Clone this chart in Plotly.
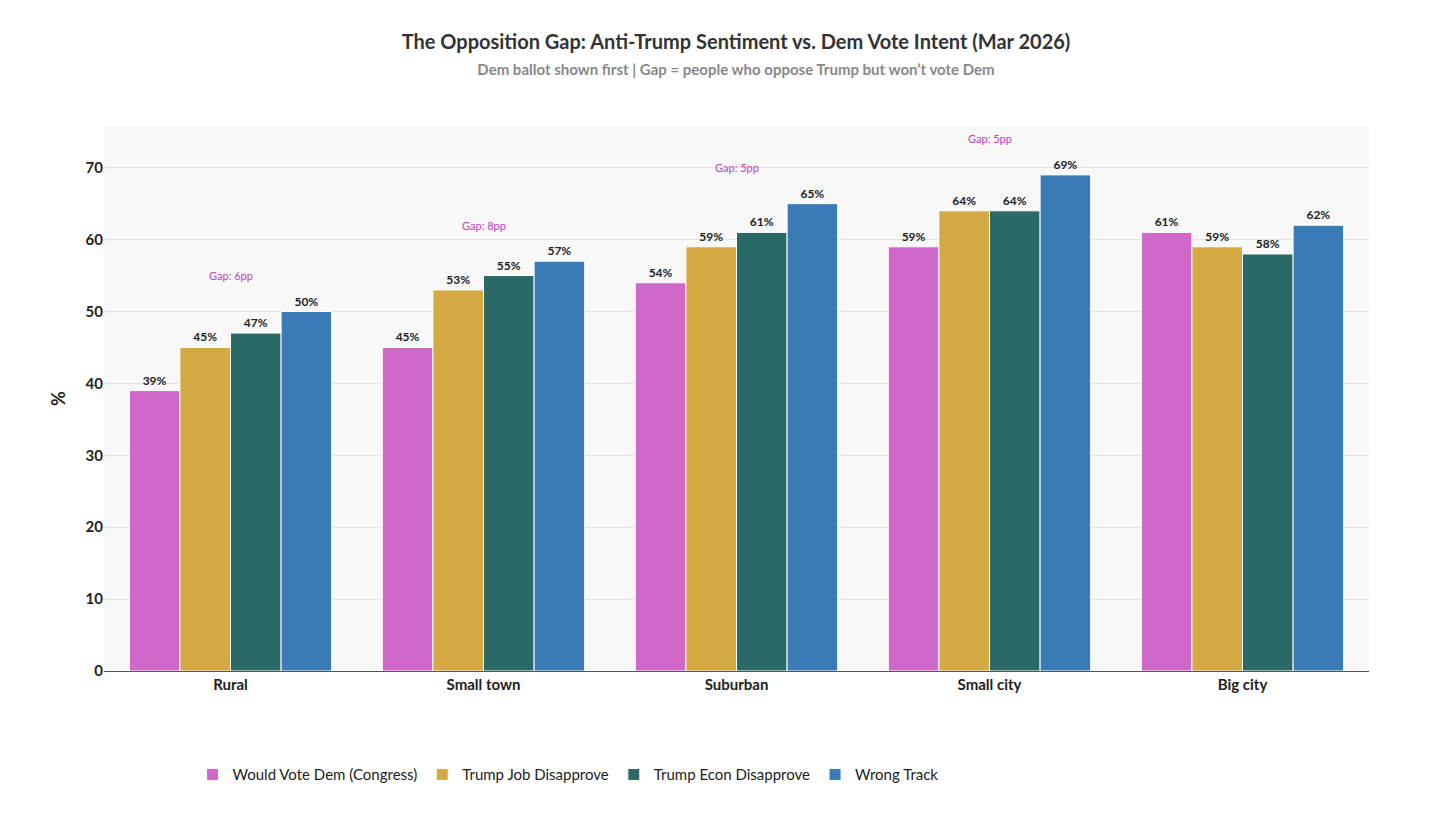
import plotly.graph_objects as go

categories = ["Rural", "Small town", "Suburban", "Small city", "Big city"]
vote_dem = [39, 45, 54, 59, 61]
job_disapprove = [45, 53, 59, 64, 59]
econ_disapprove = [47, 55, 61, 64, 58]
wrong_track = [50, 57, 65, 69, 62]

series = [
    ("Would Vote Dem (Congress)", vote_dem, "#d068c9"),
    ("Trump Job Disapprove", job_disapprove, "#d4a843"),
    ("Trump Econ Disapprove", econ_disapprove, "#2a6966"),
    ("Wrong Track", wrong_track, "#3a7bb7"),
]

fig = go.Figure()
for name, vals, color in series:
    fig.add_trace(go.Bar(
        x=categories, y=vals, name=name,
        marker=dict(color=color, line=dict(color="white", width=1)),
        text=[f"{v}%" for v in vals], textposition="outside",
        textfont=dict(size=12, color="#222", family="Lato"),
        texttemplate="<b>%{text}</b>", cliponaxis=False,
    ))

for c, d, j, e, w in zip(categories, vote_dem, job_disapprove, econ_disapprove, wrong_track):
    gap = j - d
    if gap > 0:
        fig.add_annotation(x=c, y=max(d, j, e, w) + 5, text=f"Gap: {gap}pp",
                           showarrow=False, font=dict(size=11, color="#c040c0", family="Lato"))

fig.update_layout(
    width=1456, height=818,
    font=dict(family="Lato", color="#222"),
    title=dict(
        text="<b>The Opposition Gap: Anti-Trump Sentiment vs. Dem Vote Intent (Mar 2026)</b>"
             "<br><span style='font-size:15px;color:#888'><b>Dem ballot shown first | Gap = people who oppose Trump but won’t vote Dem</b></span>",
        x=0.5, xanchor="center", y=0.95, font=dict(size=20, color="#333"),
    ),
    plot_bgcolor="#f8f8f8", paper_bgcolor="white",
    barmode="group", bargap=0.2, bargroupgap=0.0,
    margin=dict(l=96, r=95, t=118, b=155),
    legend=dict(orientation="h", x=0.07, xanchor="left", y=-0.16, yanchor="top",
                font=dict(size=15, color="#222"), traceorder="normal"),
    showlegend=True,
)
fig.update_xaxes(tickfont=dict(size=15, color="#222"), showline=True, linecolor="#555",
                 tickprefix="<b>", ticksuffix="</b>")
fig.update_yaxes(title=dict(text="<b>%</b>", font=dict(size=18)), range=[0, 75.8], dtick=10,
                 gridcolor="#e2e2e2", tickfont=dict(size=15), tickprefix="<b>", ticksuffix="</b>",
                 zeroline=False)

fig.write_html("out.html")
